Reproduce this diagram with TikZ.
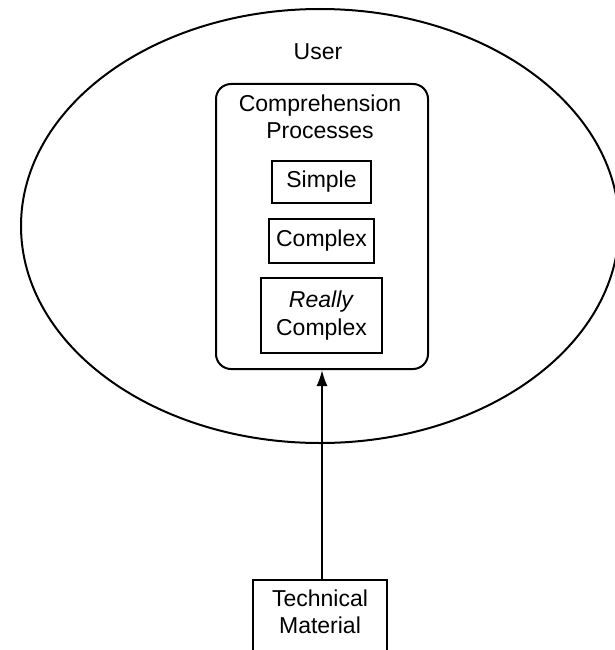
\documentclass[tikz,border=0pt]{standalone}
\usepackage{fontspec}
\setmainfont{Liberation Sans}
\usetikzlibrary{arrows.meta,shapes.geometric}

\begin{document}
\begin{tikzpicture}[
  x=1pt, y=-1pt,
  line width=2pt,
  every node/.style={font=\fontsize{23}{27.3}\selectfont},
  unode/.style={draw,ellipse,inner sep=0pt,minimum width=598pt,minimum height=434pt},
  pnode/.style={draw,rectangle,rounded corners=15pt,inner sep=0pt,minimum width=212pt,minimum height=285pt},
  snode/.style={draw,rectangle,inner sep=0pt,align=center}
]
  \useasboundingbox (0,0) rectangle (615,650);

  % user
  \node[unode] (user) at (320,226) {};
  \node[anchor=base,inner sep=0pt] (userlabel) at (318,59.3) {User};

  % comprehension processes
  \node[pnode] (proc) at (322,226.5) {};
  \node[anchor=north,inner sep=0pt,align=center] (proclabel) at (320,94) {Comprehension\\Processes};

  % kinds of process
  \node[snode,minimum width=99pt,minimum height=42pt] (simple) at (321.5,182) {Simple};
  \node[snode,minimum width=105pt,minimum height=44pt] (complex) at (321.5,241) {Complex};
  \node[snode,minimum width=121pt,minimum height=75pt] (rcomplex) at (321.5,315.5) {\textit{Really}\\Complex};

  % material
  \node[snode,anchor=north,inner ysep=10pt,minimum width=134pt,text depth=40pt] (tech) at (320,579) {Technical\\Material};

  % input edge
  \draw[-{Latex[length=16pt,width=11pt]}] (tech.north -| proc.south) -- (proc.south);

\end{tikzpicture}
\end{document}
